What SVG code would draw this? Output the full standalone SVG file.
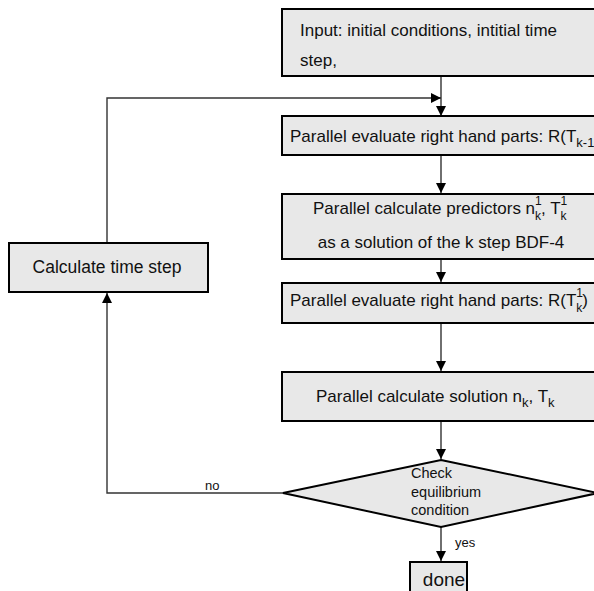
<svg xmlns="http://www.w3.org/2000/svg" width="594" height="591" viewBox="0 0 594 591">
<defs>
<marker id="ah" viewBox="0 0 10 10" refX="10" refY="5" markerWidth="10" markerHeight="10" markerUnits="userSpaceOnUse" orient="auto">
<path d="M0,0 L10,5 L0,10 Z" fill="#000"/>
</marker>
<style>
.box{fill:#e8e8e8;stroke:#000;stroke-width:2}
.t{font-family:"Liberation Sans",Arial,sans-serif;font-size:17px;fill:#111}
.s{font-size:13px}
.ss{font-size:12px}
.lab{font-family:"Liberation Sans",Arial,sans-serif;font-size:13px;fill:#111}
.d{font-size:14.5px}
.c{fill:none;stroke:#333;stroke-width:1.4}
</style>
</defs>
<rect width="594" height="591" fill="#fff"/>
<g id="connectors">
<line class="c" x1="441" y1="76" x2="441" y2="116" marker-end="url(#ah)"/>
<path class="c" d="M107,243 V98 H441" marker-end="url(#ah)"/>
<line class="c" x1="441" y1="155" x2="441" y2="193" marker-end="url(#ah)"/>
<line class="c" x1="441" y1="259" x2="441" y2="282" marker-end="url(#ah)"/>
<line class="c" x1="441" y1="323" x2="441" y2="371" marker-end="url(#ah)"/>
<line class="c" x1="441" y1="421" x2="441" y2="459" marker-end="url(#ah)"/>
<path class="c" d="M283,493 H107 V293" marker-end="url(#ah)"/>
<line class="c" x1="441" y1="527" x2="441" y2="561" marker-end="url(#ah)"/>
<text class="lab" x="205" y="490">no</text>
<text class="lab" x="455" y="547">yes</text>
</g>
<g id="input">
<rect class="box" x="282" y="9" width="320" height="67"/>
<text class="t" x="300" y="36">Input: initial conditions, intitial time</text>
<text class="t" x="300" y="66">step,</text>
</g>
<g id="eval1">
<rect class="box" x="282" y="116" width="320" height="39"/>
<text class="t" x="290" y="142">Parallel evaluate right hand parts: R(T<tspan class="s" dy="5">k-1</tspan></text>
</g>
<g id="predict">
<rect class="box" x="282" y="194" width="320" height="65"/>
<text class="t" x="313" y="214">Parallel calculate predictors n<tspan class="ss" dy="-9">1</tspan><tspan class="ss" dx="-6.7" dy="15">k</tspan><tspan dy="-6">, T</tspan><tspan class="ss" dy="-9">1</tspan><tspan class="ss" dx="-6.7" dy="15">k</tspan></text>
<text class="t" x="441" y="248" text-anchor="middle">as a solution of the k step BDF-4</text>
</g>
<g id="eval2">
<rect class="box" x="282" y="283" width="320" height="40"/>
<text class="t" x="290" y="306">Parallel evaluate right hand parts: R(T<tspan class="ss" dy="-9">1</tspan><tspan class="ss" dx="-6.7" dy="15">k</tspan><tspan dy="-6">)</tspan></text>
</g>
<g id="solution">
<rect class="box" x="282" y="372" width="320" height="49"/>
<text class="t" x="316" y="402">Parallel calculate solution n<tspan class="s" dy="5">k</tspan><tspan dy="-5">, T</tspan><tspan class="s" dy="5">k</tspan></text>
</g>
<g id="check">
<polygon class="box" points="441,460 598,493 441,527 283,493"/>
<text class="lab d" x="411" y="478">Check</text>
<text class="lab d" x="411" y="497">equilibrium</text>
<text class="lab d" x="411" y="515">condition</text>
</g>
<g id="timestep">
<rect class="box" x="9" y="243" width="199" height="49"/>
<text class="t" x="107" y="273" text-anchor="middle" style="font-size:17.5px">Calculate time step</text>
</g>
<g id="done">
<rect class="box" x="410" y="562" width="57" height="40"/>
<text class="t" x="444" y="586" text-anchor="middle" style="font-size:19px">done</text>
</g>
</svg>
